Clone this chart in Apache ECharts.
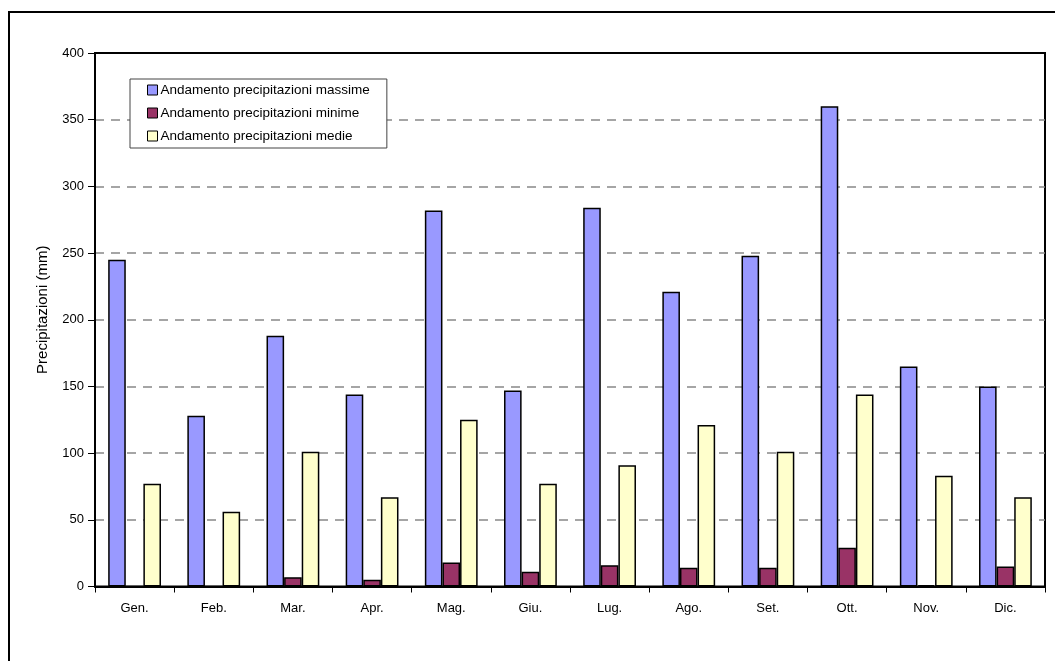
<!DOCTYPE html>
<html>
<head>
<meta charset="utf-8">
<script src="https://cdn.jsdelivr.net/npm/echarts@6/dist/echarts.min.js"></script>
<style>
  html, body { margin: 0; padding: 0; background: #fff; }
  #chart { width: 1055px; height: 661px; }
</style>
</head>
<body>
<div id="chart"></div>
<script>
// Monthly precipitation (mm)
const months = ['Gen.', 'Feb.', 'Mar.', 'Apr.', 'Mag.', 'Giu.', 'Lug.', 'Ago.', 'Set.', 'Ott.', 'Nov.', 'Dic.'];
const maxRain = [245, 128, 188, 144, 282, 147, 284, 221, 248, 360, 165, 150];
const minRain = [0, 0, 7, 5, 18, 11, 16, 14, 14, 29, 1, 15];
const meanRain = [77, 56, 101, 67, 125, 77, 91, 121, 101, 144, 83, 67];
const yTicks = { min: 0, max: 400, interval: 50 };

const FONT = '"Liberation Sans", Arial, sans-serif';

const chart = echarts.init(document.getElementById('chart'));

const barBase = {
  type: 'bar',
  barWidth: 17.6,
  barGap: '0%',
  animation: false
};

chart.setOption({
  backgroundColor: '#ffffff',
  textStyle: { fontFamily: FONT, color: '#000' },
  graphic: [{
    type: 'rect',
    shape: { x: 9, y: 12, width: 1100, height: 700 },
    style: { fill: 'none', stroke: '#000', lineWidth: 2 },
    silent: true
  }],
  grid: {
    left: 95, right: 10, top: 53, height: 533.5,
    show: true, borderColor: '#000', borderWidth: 2, backgroundColor: 'transparent'
  },
  legend: {
    orient: 'vertical',
    left: 130, top: 79,
    padding: [4, 17, 5, 17],
    itemWidth: 10, itemHeight: 10, itemGap: 9,
    borderColor: '#444', borderWidth: 1,
    backgroundColor: '#fff',
    icon: 'rect',
    textStyle: { fontFamily: FONT, fontSize: 13.5, color: '#000', lineHeight: 14, padding: [0, 0, 0, -2] },
    itemStyle: { borderColor: '#000', borderWidth: 1 },
    data: ['Andamento precipitazioni massime', 'Andamento precipitazioni minime', 'Andamento precipitazioni medie']
  },
  xAxis: {
    type: 'category',
    data: months,
    boundaryGap: true,
    axisLine: { lineStyle: { color: '#000', width: 2 } },
    axisTick: { show: true, alignWithLabel: false, length: 6, lineStyle: { color: '#000', width: 1 } },
    axisLabel: { fontFamily: FONT, fontSize: 13, color: '#000', margin: 15 },
    splitLine: { show: false }
  },
  yAxis: {
    type: 'value',
    min: yTicks.min, max: yTicks.max, interval: yTicks.interval,
    name: 'Precipitazioni (mm)',
    nameLocation: 'middle',
    nameRotate: 90,
    nameGap: 45,
    nameTextStyle: { fontFamily: FONT, fontSize: 15, color: '#000', padding: [0, 0, 0, 20] },
    axisLine: { show: true, lineStyle: { color: '#000', width: 2 } },
    axisTick: { show: true, length: 7, lineStyle: { color: '#000', width: 1 } },
    axisLabel: { fontFamily: FONT, fontSize: 13, color: '#000', margin: 11 },
    splitLine: {
      show: true, showMinLine: false, showMaxLine: false,
      lineStyle: { color: '#888', width: 1.5, type: [9, 7] }
    }
  },
  series: [
    Object.assign({}, barBase, {
      name: 'Andamento precipitazioni massime',
      data: maxRain,
      itemStyle: { color: '#9999FF', borderColor: '#000', borderWidth: 1.5 }
    }),
    Object.assign({}, barBase, {
      name: 'Andamento precipitazioni minime',
      data: minRain,
      itemStyle: { color: '#993366', borderColor: '#000', borderWidth: 1.5 }
    }),
    Object.assign({}, barBase, {
      name: 'Andamento precipitazioni medie',
      data: meanRain,
      itemStyle: { color: '#FFFFCC', borderColor: '#000', borderWidth: 1.5 }
    })
  ]
});
</script>
</body>
</html>
